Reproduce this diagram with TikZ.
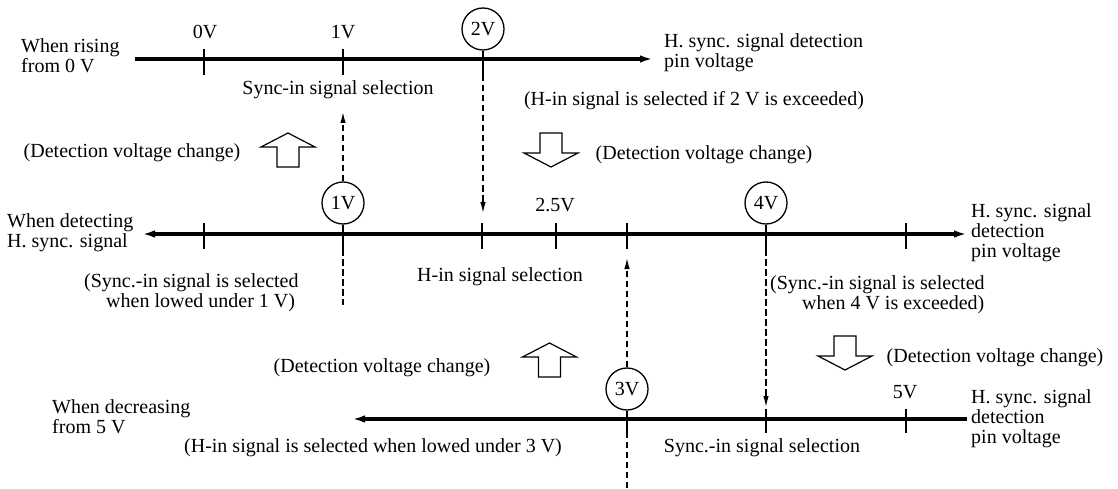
\documentclass[tikz,border=0pt]{standalone}
\usepackage{fontspec}
\setmainfont{Liberation Serif}
\usetikzlibrary{arrows.meta}
\begin{document}
\begin{tikzpicture}[x=1pt,y=-1pt,
  txt/.style={inner sep=0pt, font=\fontsize{20}{20}\selectfont},
  axisline/.style={line width=3.1pt},
  tickline/.style={line width=1.3pt},
  dashline/.style={line width=1.3pt, dash pattern=on 6.5pt off 3.5pt},
  darrow/.style={-{Latex[length=11pt,width=5.5pt]}},
  vcirc/.style={circle, draw, line width=1.3pt, minimum size=42pt, inner sep=0pt, fill=white, font=\fontsize{20}{20}\selectfont},
  blk/.style={draw, line width=1.2pt, fill=white},
  pics/upblock/.style={code={\draw[blk] (0,0) -- (27,14) -- (11,14) -- (11,34) -- (-11,34) -- (-11,14) -- (-27,14) -- cycle;}},
  pics/downblock/.style={code={\draw[blk] (-11,0) -- (11,0) -- (11,20) -- (27,20) -- (0,34) -- (-27,20) -- (-11,20) -- cycle;}}
]
\useasboundingbox (0,0) rectangle (1118,489);

% ---------- top axis ----------
\coordinate (ta) at (135,59);
\coordinate (tb) at (653,59);
\draw[axisline, -{Latex[length=13pt,width=7.5pt]}] (ta) -- (tb);
\draw[tickline] (204,49) -- (204,75);
\draw[tickline] (343,49) -- (343,75);
\node[vcirc] (c2) at (483,29) {2V};
\coordinate (c2t) at (483,75);
\coordinate (d2) at (483,213);
\draw[tickline] (c2.south) -- (c2t);
\draw[dashline, darrow] (c2t) -- (d2);
\node[txt] (l0) at (205,32) {0V};
\node[txt] (l1) at (343,32) {1V};
\node[txt, anchor=west, align=left] (wr) at (21,56) {When rising\\from 0 V};
\node[txt, anchor=west, align=left] (hs1) at (664,53) {H. sync. signal detection\\pin voltage};
\node[txt] (ssel) at (338,90) {Sync-in signal selection};
\node[txt] (hin2) at (694,101) {(H-in signal is selected if 2 V is exceeded)};

% ---------- block arrows, upper ----------
\pic at (288,133) {upblock};
\node[txt] (dv1) at (132,153) {(Detection voltage change)};
\pic at (551,133) {downblock};
\node[txt] (dv2) at (704,155) {(Detection voltage change)};

% ---------- middle axis ----------
\coordinate (ma) at (142,234);
\coordinate (mb) at (967,234);
\draw[axisline, {Latex[length=13pt,width=7.5pt]}-{Latex[length=13pt,width=7.5pt]}] (ma) -- (mb);
\foreach \x in {204,482,556,627,906} \draw[tickline] (\x,223) -- (\x,249);
\node[vcirc] (c1) at (343,203) {1V};
\node[vcirc] (c4) at (766,203) {4V};
\coordinate (c1b) at (343,249);
\coordinate (c1e) at (343,305);
\coordinate (u1) at (343,112);
\draw[tickline] (c1.south) -- (c1b);
\draw[dashline] (c1b) -- (c1e);
\draw[dashline, darrow] (c1.north) -- (u1);
\coordinate (c4b) at (766,249);
\coordinate (d4) at (766,407);
\draw[tickline] (c4.south) -- (c4b);
\draw[dashline, darrow] (c4b) -- (d4);
\node[txt] (l25) at (555,205) {2.5V};
\node[txt, anchor=west, align=left] (wd) at (7,233) {When detecting\\H. sync. signal};
\node[txt, anchor=west, align=left] (hs2) at (971,233) {H. sync. signal\\detection\\pin voltage};
\node[txt, anchor=west, align=left] (s1) at (84,293) {(Sync.-in signal is selected\\\hspace*{22pt}when lowed under 1 V)};
\node[txt] (hsel) at (500,277) {H-in signal selection};
\node[txt, anchor=west, align=left] (s4) at (770,295) {(Sync.-in signal is selected\\\hspace*{32pt}when 4 V is exceeded)};

% ---------- block arrows, lower ----------
\pic at (549.5,343) {upblock};
\node[txt] (dv3) at (382,368) {(Detection voltage change)};
\pic at (845,336) {downblock};
\node[txt] (dv4) at (995,358) {(Detection voltage change)};

% ---------- bottom axis ----------
\coordinate (ba) at (967,419);
\coordinate (bb) at (352,419);
\draw[axisline, -{Latex[length=13pt,width=7.5pt]}] (ba) -- (bb);
\draw[tickline] (766,409) -- (766,433);
\draw[tickline] (906,409) -- (906,433);
\node[vcirc] (c3) at (627,389) {3V};
\coordinate (c3b) at (627,433);
\coordinate (c3e) at (627,488);
\coordinate (u3) at (627,258);
\draw[tickline] (c3.south) -- (c3b);
\draw[dashline] (c3e) -- (c3b);
\draw[dashline, darrow] (c3.north) -- (u3);
\node[txt] (l5) at (905,392) {5V};
\node[txt, anchor=west, align=left] (wdec) at (52,417) {When decreasing\\from 5 V};
\node[txt, anchor=west, align=left] (hs3) at (971,419) {H. sync. signal\\detection\\pin voltage};
\node[txt] (hin3) at (373,448) {(H-in signal is selected when lowed under 3 V)};
\node[txt] (ssel3) at (762,448) {Sync.-in signal selection};
\end{tikzpicture}
\end{document}
